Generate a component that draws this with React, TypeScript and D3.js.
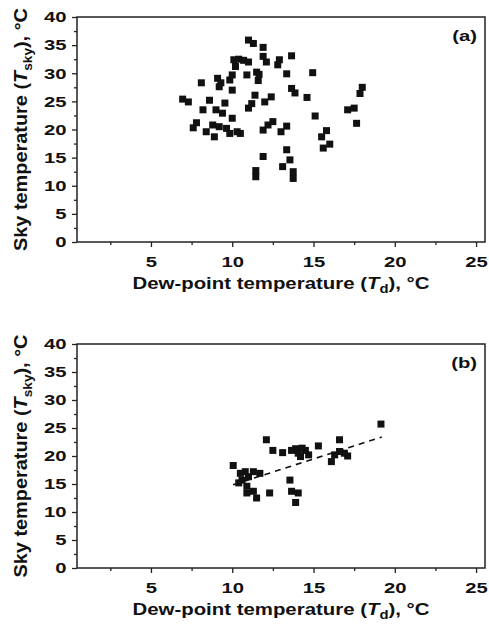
import React, { useEffect, useRef } from 'react';
import * as d3 from 'd3';

// (a) all nights: dew-point vs sky temperature
const TD_A = [6.95, 7.3, 7.6, 7.8, 8.1, 8.2, 8.4, 8.6, 8.8, 8.9, 9.0, 9.1, 9.2, 9.2, 9.4, 9.55, 9.65, 9.85, 9.85, 10.0,
  10.0, 10.0, 10.1, 10.3, 10.5, 10.4, 10.7, 11.0, 10.9, 11.0, 11.0, 11.3, 11.5, 11.6, 11.4, 11.2, 11.45, 11.45, 11.9, 11.9,
  11.9, 11.9, 12.1, 12.9, 12.8, 13.65, 13.35, 14.95, 13.65, 13.86, 14.6, 12.4, 12.0, 11.65, 12.2, 12.5, 13.0, 13.35, 15.1, 15.5,
  15.8, 15.6, 16.0, 13.35, 13.55, 13.1, 13.75, 13.75, 17.1, 17.5, 17.65, 17.86, 18.0, 10.2, 9.3];
const TSKY_A = [25.4, 24.9, 20.3, 21.2, 28.3, 23.5, 19.6, 25.2, 20.8, 18.7, 23.5, 29.1, 27.6, 20.5, 22.9, 24.7, 20.2, 28.8, 19.3, 29.7,
  27.0, 22.0, 32.4, 19.6, 19.3, 32.5, 32.3, 32.0, 29.7, 23.8, 35.9, 35.3, 30.2, 28.7, 26.1, 24.6, 12.7, 11.6, 15.2, 19.9,
  34.6, 33.0, 32.0, 32.4, 31.5, 33.1, 29.9, 30.1, 27.3, 26.5, 25.7, 25.8, 24.9, 29.8, 20.8, 21.4, 19.6, 20.6, 22.4, 18.7,
  19.8, 16.7, 17.4, 16.4, 14.6, 13.4, 12.5, 11.3, 23.5, 23.8, 21.1, 26.4, 27.5, 31.2, 28.3];

// (b) subset with fit
const TD_B = [10.06, 10.5, 10.8, 11.3, 11.7, 10.6, 10.4, 10.9, 10.9, 11.3, 11.5, 12.3, 12.1, 12.5, 13.1, 13.65, 13.9, 14.06,
  14.3, 14.7, 14.2, 15.3, 13.55, 13.65, 14.06, 13.9, 16.1, 16.3, 16.6, 16.6, 17.1, 16.9, 19.15, 11.0, 14.5];
const TSKY_B = [18.3, 16.9, 17.2, 17.2, 16.9, 15.7, 15.2, 14.6, 13.4, 13.7, 12.5, 13.4, 22.9, 21.0, 20.6, 21.0, 21.3, 20.5,
  21.4, 20.2, 19.9, 21.8, 15.7, 13.7, 13.4, 11.7, 19.0, 20.2, 22.9, 20.8, 20.0, 20.5, 25.7, 16.3, 21.0];

const FIT_TD = [10.05, 19.2];
const FIT_TSKY = [14.85, 23.4];

const X_TICKS = [5, 10, 15, 20, 25];
const X_MINOR = [2.5, 7.5, 12.5, 17.5, 22.5];
const Y_TICKS = [0, 5, 10, 15, 20, 25, 30, 35, 40];
const Y_MINOR = [2.5, 7.5, 12.5, 17.5, 22.5, 27.5, 32.5, 37.5];

const WIDTH = 489;
const HEIGHT = 626;
const LEFT = 77;
const RIGHT = 485;
const STRETCH = 1.35;
const FONT = '"Liberation Sans", Arial, sans-serif';
const INK = '#111';

const drawPanel = (svg, td, tsky, top, bottom, tag, fit) => {
  const x = d3.scaleLinear().domain([0.45, 25.55]).range([LEFT, RIGHT]);
  const y = d3.scaleLinear().domain([0, 40]).range([bottom, top]);
  const g = svg.append('g');

  g.append('g').attr('transform', `translate(0,${bottom})`)
    .call(d3.axisBottom(x).tickValues(X_MINOR).tickSize(3).tickFormat(() => ''));
  g.append('g').attr('transform', `translate(${LEFT},0)`)
    .call(d3.axisLeft(y).tickValues(Y_MINOR).tickSize(3).tickFormat(() => ''));

  g.append('g').attr('transform', `translate(0,${bottom})`)
    .call(d3.axisBottom(x).tickValues(X_TICKS).tickSize(5).tickPadding(9).tickFormat(d3.format('d')));
  const ya = g.append('g').attr('transform', `translate(${LEFT},0)`)
    .call(d3.axisLeft(y).tickValues(Y_TICKS).tickSize(5).tickFormat(d3.format('d')));

  g.selectAll('.domain').remove();
  g.selectAll('.tick line').attr('stroke', '#222').attr('stroke-width', 1.3);
  g.selectAll('.tick text')
    .attr('font-family', FONT).attr('font-weight', 'bold').attr('font-size', 15).attr('fill', INK)
    .attr('transform', `scale(${STRETCH},1)`);
  ya.selectAll('.tick text').attr('x', -10.5 / STRETCH);

  g.append('rect')
    .attr('x', LEFT).attr('y', top)
    .attr('width', RIGHT - LEFT).attr('height', bottom - top)
    .attr('fill', 'none').attr('stroke', '#222').attr('stroke-width', 1.5);

  g.selectAll('rect.pt')
    .data(d3.zip(td, tsky))
    .join('rect')
    .attr('class', 'pt')
    .attr('x', d => x(d[0]) - 3.5)
    .attr('y', d => y(d[1]) - 3.5)
    .attr('width', 7).attr('height', 7)
    .attr('fill', INK);

  if (fit) {
    const line = d3.line().x(d => x(d[0])).y(d => y(d[1]));
    g.append('path')
      .attr('d', line(d3.zip(fit[0], fit[1])))
      .attr('fill', 'none').attr('stroke', INK).attr('stroke-width', 1.6)
      .attr('stroke-dasharray', '6,5');
  }

  g.append('text')
    .attr('transform', `translate(${RIGHT - 8},${top + 24}) scale(${STRETCH},1)`)
    .attr('text-anchor', 'end')
    .attr('font-family', FONT).attr('font-weight', 'bold').attr('font-size', 15).attr('fill', INK)
    .text(tag);

  // x title
  const xt = g.append('text')
    .attr('x', (LEFT + RIGHT) / 2).attr('y', bottom + 47)
    .attr('text-anchor', 'middle')
    .attr('textLength', 297).attr('lengthAdjust', 'spacingAndGlyphs')
    .attr('font-family', FONT).attr('font-weight', 'bold').attr('font-size', 16.5).attr('fill', INK);
  xt.append('tspan').text('Dew-point temperature (');
  xt.append('tspan').attr('font-style', 'italic').text('T');
  xt.append('tspan').attr('font-size', 12).attr('dy', 4).text('d');
  xt.append('tspan').attr('dy', -4).text('), °C');

  // y title
  const yt = g.append('text')
    .attr('transform', `translate(27,${(top + bottom) / 2}) rotate(-90)`)
    .attr('text-anchor', 'middle')
    .attr('textLength', 243).attr('lengthAdjust', 'spacingAndGlyphs')
    .attr('font-family', FONT).attr('font-weight', 'bold').attr('font-size', 19).attr('fill', INK);
  yt.append('tspan').text('Sky temperature (');
  yt.append('tspan').attr('font-style', 'italic').text('T');
  yt.append('tspan').attr('font-size', 13).attr('dy', 5).text('sky');
  yt.append('tspan').attr('dy', -5).text('), °C');
};

const App = () => {
  const ref = useRef(null);

  useEffect(() => {
    const svg = d3.select(ref.current);
    svg.selectAll('*').remove();
    svg.append('rect').attr('width', WIDTH).attr('height', HEIGHT).attr('fill', '#fff');
    drawPanel(svg, TD_A, TSKY_A, 17, 242, '(a)', null);
    drawPanel(svg, TD_B, TSKY_B, 344, 568, '(b)', [FIT_TD, FIT_TSKY]);
  }, []);

  return (
    <svg
      ref={ref}
      width={WIDTH}
      height={HEIGHT}
      style={{ position: 'absolute', left: 0, top: 0, display: 'block' }}
    />
  );
};

export default App;
